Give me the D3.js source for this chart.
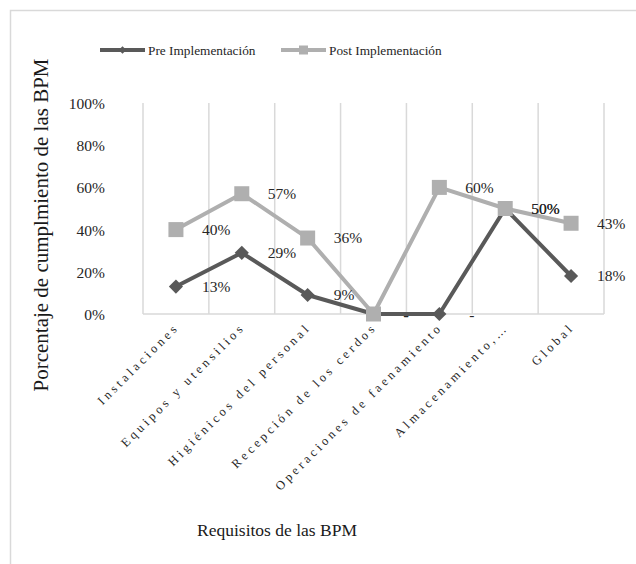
<!DOCTYPE html>
<html><head><meta charset="utf-8">
<script src="https://cdn.jsdelivr.net/npm/d3@7"></script>
<style>html,body{margin:0;padding:0;background:#fff;}svg{display:block;}
svg text{font-family:"Liberation Serif","Times New Roman",serif !important;}</style>
</head><body>
<svg id="c" width="636" height="564"></svg>
<script>
const categories = ["Instalaciones","Equipos y utensilios","Higiénicos del personal","Recepción de los cerdos","Operaciones de faenamiento","Almacenamiento,…","Global"];
const preValues = [0.13,0.29,0.09,0,0,0.50,0.18];
const postValues = [0.40,0.57,0.36,0,0.60,0.50,0.43];
const yTicks = [0,0.2,0.4,0.6,0.8,1.0];
const seriesNames = ["Pre Implementación","Post Implementación"];
const colors = ["#595959","#AFAFAF"];

const svg = d3.select("#c");
svg.append("rect").attr("x",10.5).attr("y",10.5).attr("width",700).attr("height",700)
  .attr("fill","#fff").attr("stroke","#D9D9D9").attr("stroke-width",1.5);

const x = d3.scaleBand().domain(categories).range([143,604]);
const y = d3.scaleLinear().domain([0,1]).range([314,103]);

// vertical gridlines
const bounds = categories.map(c=>x(c)).concat([x.range()[1]]);
svg.append("g").selectAll("line").data(bounds).join("line")
  .attr("x1",d=>d).attr("x2",d=>d).attr("y1",y(1)).attr("y2",y(0))
  .attr("stroke","#D9D9D9").attr("stroke-width",1.5);
svg.append("line").attr("x1",x.range()[0]).attr("x2",x.range()[1]).attr("y1",y(0)).attr("y2",y(0))
  .attr("stroke","#D9D9D9").attr("stroke-width",1.5);

// y axis labels
const yAxis = d3.axisLeft(y).tickValues(yTicks).tickFormat(d3.format(".0%")).tickSize(0).tickPadding(0);
const ga = svg.append("g").attr("transform","translate(105,0)").call(yAxis);
ga.select(".domain").remove();
ga.selectAll("text").style("font-size","15.5px").attr("fill","#262626").attr("dy","0.35em");

// x axis labels
const xAxis = d3.axisBottom(x).tickSize(0).tickPadding(0);
const gx = svg.append("g").call(xAxis);
gx.select(".domain").remove();
gx.selectAll(".tick").attr("transform",d=>`translate(${x(d)+x.bandwidth()/2+4},328)`);
gx.selectAll("text").style("font-size","12.5px").attr("fill","#262626")
  .style("letter-spacing","3.4px").attr("text-anchor","end").attr("y",0).attr("dy","0")
  .attr("transform","rotate(-45)");

const cx = d => x(d)+x.bandwidth()/2;
const series = [preValues, postValues];
const fmt = v => v===0 ? "-" : d3.format(".0%")(v);

// lines
series.forEach((vals,i)=>{
  const line = d3.line().x((v,j)=>cx(categories[j])).y(v=>y(v));
  svg.append("path").datum(vals).attr("d",line).attr("fill","none")
    .attr("stroke",colors[i]).attr("stroke-width",4).attr("stroke-linejoin","round");
});
// Pre markers (diamonds)
svg.append("g").selectAll("path").data(preValues).join("path")
  .attr("d",d3.symbol(d3.symbolSquare, 100))
  .attr("transform",(v,j)=>`translate(${cx(categories[j])},${y(v)}) rotate(45)`)
  .attr("fill",colors[0]);
// Post markers (squares)
svg.append("g").selectAll("rect").data(postValues).join("rect")
  .attr("x",(v,j)=>cx(categories[j])-7.5).attr("y",v=>y(v)-7.5)
  .attr("width",15).attr("height",15).attr("fill",colors[1]);

// data labels
series.forEach((vals,i)=>{
  svg.append("g").selectAll("text").data(vals).join("text")
    .attr("x",(v,j)=>cx(categories[j])+26 + (v===0?4:0))
    .attr("y",v=>y(v)+(v===0?1:0)).attr("dy","0.35em")
    .style("font-size","15.5px").attr("fill","#262626")
    .text(fmt);
});

// legend
const lg = svg.append("g");
[[100,148],[281,329]].forEach((p,i)=>{
  lg.append("line").attr("x1",p[0]).attr("x2",p[0]+45).attr("y1",50).attr("y2",50)
    .attr("stroke",colors[i]).attr("stroke-width",4);
  if(i===0){
    lg.append("path").attr("d",d3.symbol(d3.symbolSquare,30)).attr("transform",`translate(${p[0]+22.5},50) rotate(45)`).attr("fill",colors[0]);
  } else {
    lg.append("rect").attr("x",p[0]+22.5-4.5).attr("y",45.5).attr("width",9).attr("height",9).attr("fill",colors[1]);
  }
  lg.append("text").attr("x",p[1]).attr("y",50).attr("dy","0.35em")
    .style("font-size","13.3px").attr("fill","#262626").text(seriesNames[i]);
});

// axis titles
svg.append("text").attr("transform","translate(48,225) rotate(-90)").attr("text-anchor","middle")
  .style("font-size","21px").attr("fill","#1a1a1a")
  .text("Porcentaje de cumplmiento de las BPM");
svg.append("text").attr("x",277).attr("y",536).attr("text-anchor","middle")
  .style("font-size","17.5px").attr("fill","#1a1a1a")
  .text("Requisitos de las BPM");
</script>
</body></html>
